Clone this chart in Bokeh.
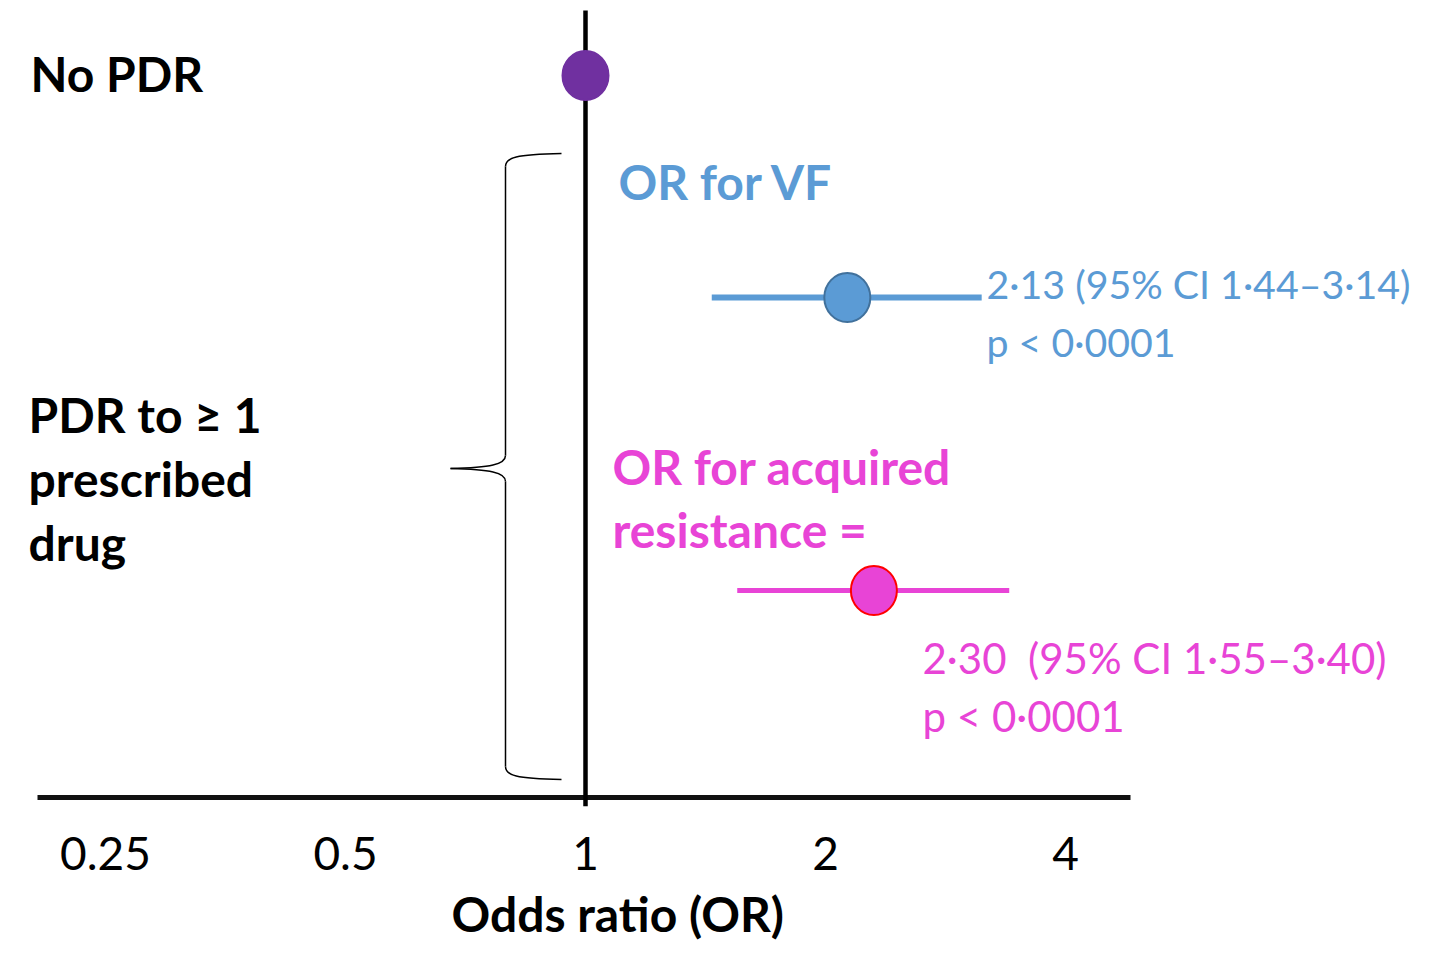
from bokeh.plotting import figure
from bokeh.models import Range1d, FixedTicker, Title
from bokeh.core.properties import value
from bokeh.embed import file_html
from bokeh.resources import INLINE

# ---------------- data ----------------
groups = ["No PDR", "OR for VF", "OR for acquired resistance"]
odds_ratio = [1.0, 2.13, 2.30]
ci_low = [1.44, 1.55]
ci_high = [3.14, 3.40]
result_text = ["2·13 (95% CI 1·44–3·14)", "2·30\u00a0 (95% CI 1·55–3·40)"]
p_text = ["p < 0·0001", "p < 0·0001"]
tick_values = [0.25, 0.5, 1, 2, 4]
tick_labels = ["0.25", "0.5", "1", "2", "4"]

# ---------------- layout helpers (picture pixel -> data) ----------------
W, H = 1417, 952
FRAME_BOTTOM = 806
X_ONE = 585
PX_PER_DOUBLING = 240.0


def px(x_pix):
    return 2 ** ((x_pix - X_ONE) / PX_PER_DOUBLING)


def py(y_pix):
    return FRAME_BOTTOM - y_pix


def pyt(y_baseline, size):
    # text baseline correction for the renderer
    return FRAME_BOTTOM - (y_baseline - 0.4 * size)


FONT = value("Lato")
BLUE = "#5B9BD5"
PINK = "#E844D6"
PURPLE = "#7030A0"

p = figure(width=W, height=H, output_backend="svg", toolbar_location=None,
           x_axis_type="log", y_axis_location=None,
           x_range=Range1d(px(0), px(W)), y_range=Range1d(0, FRAME_BOTTOM),
           min_border_left=0, min_border_right=0, min_border_top=0,
           min_border_bottom=H - FRAME_BOTTOM)
p.outline_line_color = None
p.grid.visible = False
p.background_fill_color = "white"
p.border_fill_color = "white"

ax = p.xaxis[0]
ax.ticker = FixedTicker(ticks=tick_values, minor_ticks=[])
ax.major_label_overrides = {v: s for v, s in zip(tick_values, tick_labels)}
ax.axis_line_color = None
ax.major_tick_line_color = None
ax.minor_tick_line_color = None
ax.major_label_text_font = "Lato"
ax.major_label_text_font_size = "46px"
ax.major_label_text_color = "black"
ax.major_label_standoff = 24

# row positions (layout)
row_y = [py(75), py(297), py(590)]

# axis line and reference line at OR = 1
p.segment(x0=[px(37)], x1=[px(1130)], y0=[py(797)], y1=[py(797)],
          line_color="#111111", line_width=5)
p.segment(x0=[odds_ratio[0]], x1=[odds_ratio[0]], y0=[py(806)], y1=[py(10)],
          line_color="black", line_width=4.5)

# brace
bx0 = [px(561), px(505), px(450), px(505)]
by0 = [py(153), py(455), py(468), py(766)]
bx1 = [px(505), px(450), px(505), px(561)]
by1 = [py(166), py(468), py(481), py(779)]
bcx0 = [px(515), px(505), px(490), px(505)]
bcy0 = [py(154), py(464), py(469), py(775)]
bcx1 = [px(505), px(490), px(505), px(515)]
bcy1 = [py(157), py(467), py(472), py(778)]
p.bezier(x0=bx0, y0=by0, x1=bx1, y1=by1, cx0=bcx0, cy0=bcy0, cx1=bcx1, cy1=bcy1,
         line_color="black", line_width=1.5)
p.segment(x0=[px(505), px(505)], x1=[px(505), px(505)],
          y0=[py(166), py(481)], y1=[py(455), py(766)],
          line_color="black", line_width=1.5)

# confidence intervals
p.segment(x0=ci_low, x1=ci_high, y0=row_y[1:], y1=row_y[1:],
          line_color=[BLUE, PINK], line_width=[6, 5])

# point estimates
p.ellipse(x=odds_ratio, y=row_y, width=46, height=49,
          width_units="screen", height_units="screen",
          fill_color=[PURPLE, BLUE, PINK],
          line_color=[PURPLE, "#41719C", "#FF0000"], line_width=2)

# bold labels
BS = 48
bold_x = [px(30), px(28), px(28), px(28), px(618), px(612), px(612)]
bold_y = [pyt(92, BS), pyt(433, BS), pyt(497, BS), pyt(561, BS),
          pyt(200, BS), pyt(485, BS), pyt(548, BS)]
bold_t = [groups[0], "PDR to ≥ 1", "prescribed", "drug", groups[1],
          "OR for acquired", "resistance ="]
bold_c = ["black", "black", "black", "black", BLUE, PINK, PINK]
p.text(x=bold_x, y=bold_y, text=bold_t, text_color=bold_c,
       text_font=FONT, text_font_style="bold", text_font_size=f"{BS}px",
       text_align="left", text_baseline="alphabetic")

# result labels
S1 = 39.3
p.text(x=[px(986), px(986)], y=[pyt(299, S1), pyt(357, S1)],
       text=[result_text[0], p_text[0]], text_color=BLUE,
       text_font=FONT, text_font_size=f"{S1}px",
       text_align="left", text_baseline="alphabetic")
S2 = 42
p.text(x=[px(922), px(922)], y=[pyt(674, S2), pyt(732, S2)],
       text=[result_text[1], p_text[1]], text_color=PINK,
       text_font=FONT, text_font_size=f"{S2}px",
       text_align="left", text_baseline="alphabetic")

# axis title
p.add_layout(Title(text="Odds ratio (OR)", align="left", offset=451,
                   standoff=20, text_font="Lato", text_font_style="bold",
                   text_font_size="48px", text_color="black"), "below")

open("out.html", "w").write(file_html(p, INLINE))
